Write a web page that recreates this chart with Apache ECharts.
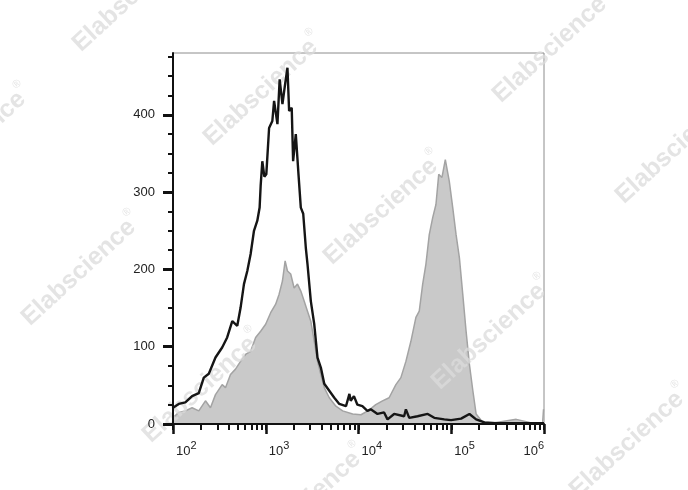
<!DOCTYPE html>
<html><head><meta charset="utf-8">
<script src="https://cdn.jsdelivr.net/npm/echarts@6/dist/echarts.min.js"></script>
<style>html,body{margin:0;padding:0;background:#fff}#c{width:688px;height:490px}</style>
</head><body><div id="c"></div>
<script>
// x values are log10 of fluorescence intensity; y values are cell counts
const xTickExponents = [2, 3, 4, 5, 6];
const yTickValues = [0, 100, 200, 300, 400];

const grayHistogram = [
  [2.000,8],[2.062,15],[2.133,17],[2.206,21],[2.278,17],[2.350,30],[2.404,21],[2.458,38],
  [2.530,51],[2.566,47],[2.620,64],[2.674,71],[2.728,81],[2.782,90],[2.837,94],[2.891,112],
  [2.945,120],[2.999,129],[3.053,144],[3.107,155],[3.144,168],[3.180,185],[3.209,211],[3.234,198],
  [3.269,194],[3.306,176],[3.342,181],[3.378,172],[3.414,159],[3.450,146],[3.486,133],[3.523,107],
  [3.558,81],[3.594,64],[3.631,47],[3.685,34],[3.756,23],[3.829,17],[3.937,13],[4.027,12],
  [4.114,18],[4.186,25],[4.259,30],[4.330,34],[4.403,51],[4.457,60],[4.511,81],[4.565,107],
  [4.619,138],[4.655,146],[4.692,181],[4.727,207],[4.763,245],[4.800,267],[4.835,284],[4.865,323],
  [4.900,319],[4.936,342],[4.979,314],[5.016,280],[5.052,245],[5.088,215],[5.124,168],[5.160,120],
  [5.196,77],[5.233,43],[5.268,13],[5.341,2],[5.485,2],[5.701,6],[5.845,2],[5.985,1],[5.995,19],[6.000,19]
];

const blackHistogram = [
  [2.000,21],[2.062,26],[2.133,28],[2.206,36],[2.278,40],[2.332,60],[2.386,65],[2.458,86],
  [2.530,99],[2.584,112],[2.639,133],[2.693,127],[2.728,150],[2.765,181],[2.801,198],[2.837,220],
  [2.873,250],[2.909,263],[2.934,280],[2.945,308],[2.963,340],[2.985,320],[3.006,323],[3.036,383],
  [3.071,392],[3.090,418],[3.126,388],[3.150,446],[3.180,414],[3.209,440],[3.234,461],[3.252,405],
  [3.280,409],[3.295,340],[3.324,375],[3.353,323],[3.378,280],[3.404,272],[3.432,228],[3.450,207],
  [3.486,159],[3.523,129],[3.558,86],[3.594,73],[3.631,52],[3.685,43],[3.739,34],[3.793,26],
  [3.865,23],[3.902,39],[3.916,30],[3.951,36],[3.988,25],[4.042,23],[4.096,17],[4.132,19],
  [4.205,13],[4.276,15],[4.313,6],[4.384,13],[4.492,10],[4.511,19],[4.547,8],[4.637,10],
  [4.746,13],[4.817,8],[4.925,6],[4.998,5],[5.106,7],[5.196,13],[5.268,6],[5.358,2],
  [5.466,1],[5.720,1],[6.000,1]
];

const watermarkText = 'Elabscience';

// minor ticks: log positions inside each decade, and every 25 counts on y
const xMinorTicks = [];
for (let d = 2; d < 6; d++) for (let k = 1; k < 10; k++) xMinorTicks.push(d + Math.log10(k));
xMinorTicks.push(6);
const yMinorTicks = [];
for (let v = 0; v < 480; v += 25) yMinorTicks.push(v);

const FONT = 'Liberation Sans, Arial, Helvetica, sans-serif';
const wmCenters = [[131,-6],[551,45],[262,88],[-30,140],[80,268],[382,207],[674,146],[201,385],[490,332],[628,440],[305,500]];
const graphics = wmCenters.map(c => ({
  type: 'text', x: c[0], y: c[1], rotation: 0.74, z: 3, silent: true,
  style: {
    text: '{a|' + watermarkText + '}{r|®}',
    align: 'center', verticalAlign: 'middle', textAlign: 'center', textVerticalAlign: 'middle',
    fill: 'rgba(219,219,219,0.75)',
    rich: {
      a: { fontSize: 25, fontWeight: 'bold', fontFamily: FONT, fill: 'rgba(219,219,219,0.75)', lineHeight: 30, verticalAlign: 'bottom' },
      r: { fontSize: 11, fontFamily: FONT, fill: 'rgba(219,219,219,0.75)', lineHeight: 30, verticalAlign: 'top' }
    }
  }
}));

const chart = echarts.init(document.getElementById('c'), null, { renderer: 'canvas' });
const gridBox = { left: 173, top: 53, width: 371, height: 371 };
chart.setOption({
  animation: false,
  backgroundColor: '#fff',
  grid: Object.assign({ show: true, borderColor: '#8c8c8c', borderWidth: 1, backgroundColor: 'transparent' }, gridBox),
  xAxis: [
    {
      type: 'value', min: 2, max: 6, position: 'bottom', z: 4,
      axisLine: { show: true, onZero: false, lineStyle: { color: '#111', width: 2 } },
      axisTick: { show: true, customValues: xMinorTicks, length: 6, lineStyle: { color: '#111', width: 2 } },
      axisLabel: { show: false }, splitLine: { show: false }
    },
    {
      type: 'value', min: 2, max: 6, position: 'bottom', z: 4,
      axisLine: { show: false, onZero: false },
      axisTick: { show: true, customValues: xTickExponents, length: 10, lineStyle: { color: '#111', width: 2.5 } },
      axisLabel: {
        show: true, customValues: xTickExponents, margin: 16, align: 'left', alignMaxLabel: 'right',
        padding: [0, 0, 0, 3],
        formatter: v => '{b|10}{s|' + v + '}',
        rich: {
          b: { fontSize: 13, fontFamily: FONT, color: '#222', lineHeight: 18, verticalAlign: 'bottom' },
          s: { fontSize: 11, fontFamily: FONT, color: '#222', lineHeight: 11, verticalAlign: 'top' }
        }
      },
      splitLine: { show: false }
    }
  ],
  yAxis: [
    {
      type: 'value', min: 0, max: 480, position: 'left', z: 4,
      axisLine: { show: true, onZero: false, lineStyle: { color: '#111', width: 2 } },
      axisTick: { show: true, customValues: yMinorTicks, length: 5, lineStyle: { color: '#111', width: 2 } },
      axisLabel: { show: false }, splitLine: { show: false }
    },
    {
      type: 'value', min: 0, max: 480, position: 'left', z: 4,
      axisLine: { show: false, onZero: false },
      axisTick: { show: true, customValues: yTickValues, length: 10, lineStyle: { color: '#111', width: 3 } },
      axisLabel: { show: true, customValues: yTickValues, margin: 18, fontSize: 13, fontFamily: FONT, color: '#222' },
      splitLine: { show: false }
    }
  ],
  graphic: graphics,
  series: [
    {
      type: 'line', name: 'gray', xAxisIndex: 0, yAxisIndex: 0, data: grayHistogram, symbol: 'none', z: 1,
      lineStyle: { color: '#a3a3a3', width: 1.5 }, areaStyle: { color: '#c9c9c9', opacity: 1 }
    },
    {
      type: 'line', name: 'black', xAxisIndex: 0, yAxisIndex: 0, data: blackHistogram, symbol: 'none', z: 5,
      lineStyle: { color: '#151515', width: 2.4 }
    }
  ]
});
</script></body></html>
